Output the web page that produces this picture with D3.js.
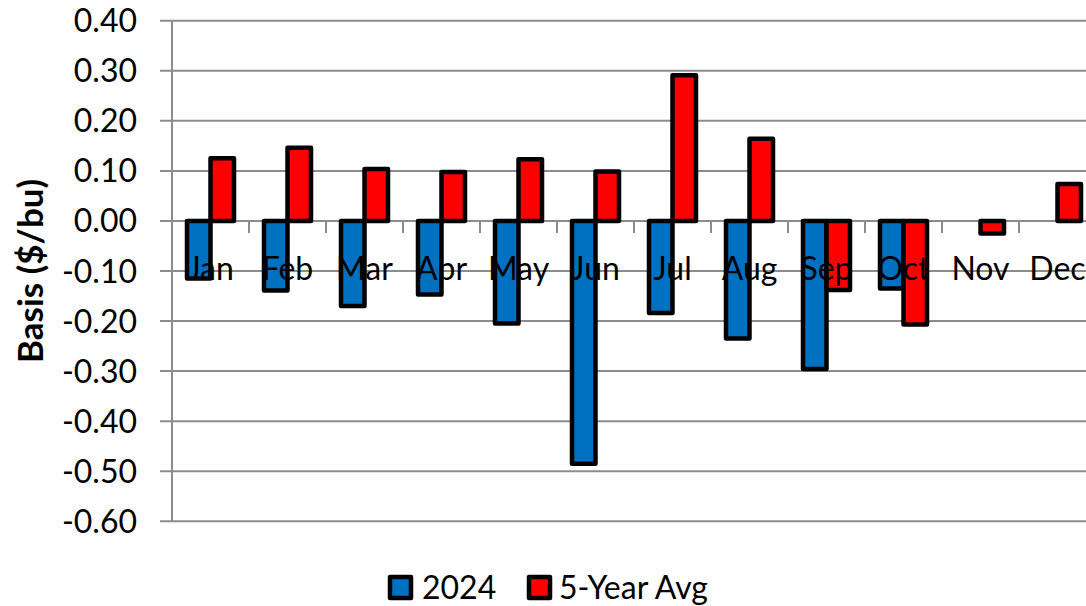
<!DOCTYPE html>
<html>
<head>
<meta charset="utf-8">
<script src="https://cdn.jsdelivr.net/npm/d3@7"></script>
<style>
  html, body { margin: 0; padding: 0; background: #fff; }
  svg { display: block; }
  text { font-family: Lato, "Open Sans", sans-serif; fill: #000; }
</style>
</head>
<body>
<svg id="chart" width="1086" height="606"></svg>
<script>
// Monthly basis, $/bu
const months = ["Jan", "Feb", "Mar", "Apr", "May", "Jun", "Jul", "Aug", "Sep", "Oct", "Nov", "Dec"];
const basis2024 = [-0.115, -0.139, -0.170, -0.147, -0.205, -0.485, -0.184, -0.235, -0.296, -0.135, null, null];
const basisAvg5 = [0.125, 0.146, 0.104, 0.098, 0.123, 0.099, 0.291, 0.164, -0.138, -0.207, -0.025, 0.074];
const yTicks = [0.4, 0.3, 0.2, 0.1, 0, -0.1, -0.2, -0.3, -0.4, -0.5, -0.6];
const seriesNames = ["2024", "5-Year Avg"];
const seriesColors = ["#0070C0", "#FF0000"];

const svg = d3.select("#chart");
const plotLeft = 172, plotTop = 20.7, plotBottom = 521.3, bandW = 77;
const fontSize = 32;

const x = d3.scaleBand().domain(months).range([plotLeft, plotLeft + bandW * months.length]).paddingInner(0).paddingOuter(0);
const y = d3.scaleLinear().domain([-0.6, 0.4]).range([plotBottom, plotTop]);
const barW = 23.5;

// horizontal gridlines (with small outside ticks on the left)
svg.append("g").selectAll("line").data(yTicks).join("line")
  .attr("x1", plotLeft - 12).attr("x2", 1086)
  .attr("y1", d => y(d)).attr("y2", d => y(d))
  .attr("stroke", "#8c8c8c").attr("stroke-width", 2);

// vertical axis line
svg.append("line").attr("x1", plotLeft).attr("x2", plotLeft).attr("y1", plotTop).attr("y2", plotBottom)
  .attr("stroke", "#8c8c8c").attr("stroke-width", 2);

// category ticks hanging from the zero line
svg.append("g").selectAll("line").data(months.slice(1)).join("line")
  .attr("x1", d => x(d)).attr("x2", d => x(d))
  .attr("y1", y(0)).attr("y2", y(0) + 12)
  .attr("stroke", "#8c8c8c").attr("stroke-width", 2);

// y tick labels
svg.append("g").selectAll("text").data(yTicks).join("text")
  .attr("x", 137).attr("y", d => y(d)).attr("dy", "0.36em")
  .attr("text-anchor", "end").attr("font-size", fontSize)
  .text(d => d3.format(".2f")(d).replace("−", "-"));

// bars
const series = [basis2024, basisAvg5];
series.forEach((vals, si) => {
  const data = months.map((m, i) => ({ m, v: vals[i] })).filter(d => d.v !== null);
  svg.append("g").selectAll("rect").data(data).join("rect")
    .attr("x", d => x(d.m) + x.bandwidth() / 2 - barW + si * barW)
    .attr("width", barW)
    .attr("y", d => y(Math.max(0, d.v)))
    .attr("height", d => Math.abs(y(d.v) - y(0)))
    .attr("fill", seriesColors[si])
    .attr("stroke", "#000").attr("stroke-width", 4.5)
    .attr("stroke-linejoin", "round");
});

// category labels
svg.append("g").selectAll("text").data(months).join("text")
  .attr("x", d => x(d) + x.bandwidth() / 2).attr("y", 280)
  .attr("text-anchor", "middle").attr("font-size", fontSize)
  .text(d => d);

// y axis title
svg.append("text")
  .attr("transform", `translate(43,${(plotTop + plotBottom) / 2}) rotate(-90)`)
  .attr("text-anchor", "middle").attr("font-size", 35).attr("font-weight", "bold")
  .text("Basis ($/bu)");

// legend
const legend = [{ x: 390, tx: 422 }, { x: 529, tx: 559 }];
legend.forEach((p, i) => {
  svg.append("rect").attr("x", p.x).attr("y", 577).attr("width", 21).attr("height", 21)
    .attr("fill", seriesColors[i]).attr("stroke", "#000").attr("stroke-width", 4.5)
    .attr("stroke-linejoin", "round");
  svg.append("text").attr("x", p.tx).attr("y", 587.5).attr("dy", "0.36em")
    .attr("font-size", fontSize).text(seriesNames[i]);
});
</script>
</body>
</html>
